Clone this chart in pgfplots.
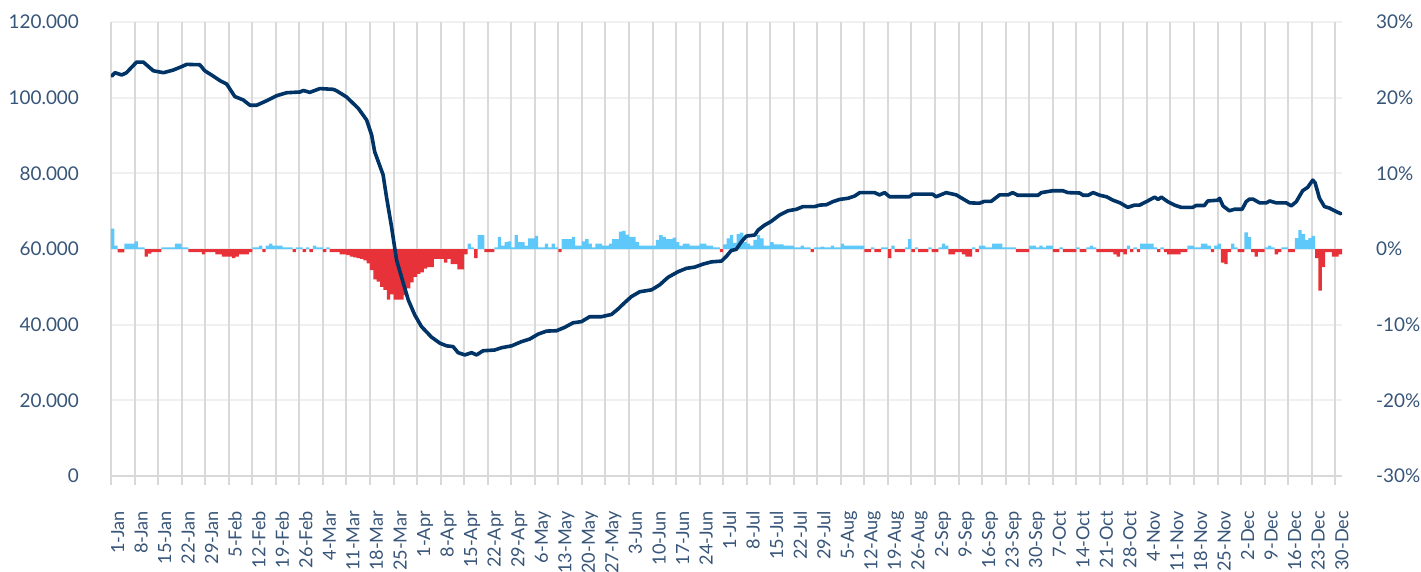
\documentclass[border=0pt]{standalone}
\usepackage{fontspec}
\setmainfont{Lato}
\usepackage{pgfplots}
\usepackage{pgfplotstable}
\pgfplotsset{compat=1.18}
\definecolor{navy}{RGB}{0,51,102}
\definecolor{lblue}{RGB}{94,200,250}
\definecolor{bred}{RGB}{230,50,56}
\definecolor{lab}{RGB}{55,85,120}
\definecolor{vgrid}{RGB}{217,217,217}
\definecolor{hgrid}{RGB}{240,240,240}

\pgfplotstableread[row sep=\\]{
d v\\
0 2.7\\ 1 0.45\\ 2 -0.45\\ 3 -0.45\\ 4 0.7\\ 5 0.7\\ 6 0.7\\ 7 1.0\\ 8 0.2\\ 9 0.2\\
10 -1.0\\ 11 -0.6\\ 12 -0.4\\ 13 -0.4\\ 14 -0.4\\ 15 0.2\\ 16 0.2\\ 17 0.2\\ 18 0.2\\ 19 0.7\\
20 0.7\\ 21 0.2\\ 22 0.2\\ 23 -0.4\\ 24 -0.4\\ 25 -0.4\\ 26 -0.4\\ 27 -0.7\\ 28 -0.4\\ 29 -0.4\\
30 -0.4\\ 31 -0.7\\ 32 -0.7\\ 33 -1.0\\ 34 -1.0\\ 35 -1.0\\ 36 -1.2\\ 37 -1.0\\ 38 -0.7\\ 39 -0.7\\
40 -0.7\\ 41 -0.4\\ 42 0.2\\ 43 0.2\\ 44 0.45\\ 45 -0.4\\ 46 0.45\\ 47 0.7\\ 48 0.45\\ 49 0.45\\
50 0.45\\ 51 0.2\\ 52 0.2\\ 53 0.2\\ 54 -0.4\\ 55 0.2\\ 56 0.2\\ 57 -0.4\\ 58 0.2\\ 59 -0.4\\
60 0.45\\ 61 0.2\\ 62 0.2\\ 63 -0.4\\ 64 0.2\\ 65 -0.4\\ 66 -0.4\\ 67 -0.4\\ 68 -0.7\\ 69 -0.7\\
70 -0.8\\ 71 -1.0\\ 72 -1.1\\ 73 -1.2\\ 74 -1.3\\ 75 -1.5\\ 76 -1.9\\ 77 -2.8\\ 78 -4.0\\ 79 -4.3\\
80 -5.0\\ 81 -5.4\\ 82 -6.7\\ 83 -6.0\\ 84 -6.7\\ 85 -6.7\\ 86 -6.7\\ 87 -6.1\\ 88 -5.2\\ 89 -4.4\\
90 -3.7\\ 91 -3.3\\ 92 -3.1\\ 93 -2.6\\ 94 -2.4\\ 95 -2.4\\ 96 -1.3\\ 97 -1.3\\ 98 -1.3\\ 99 -1.8\\
100 -1.3\\ 101 -2.0\\ 102 -2.0\\ 103 -2.7\\ 104 -2.7\\ 105 -0.7\\ 106 0.7\\ 107 0.2\\ 108 -1.2\\ 109 1.85\\
110 1.85\\ 111 -0.4\\ 112 -0.4\\ 113 -0.4\\ 114 0.2\\ 115 1.6\\ 116 0.45\\ 117 0.9\\ 118 1.0\\ 119 0.2\\
120 1.85\\ 121 0.9\\ 122 0.9\\ 123 0.45\\ 124 1.4\\ 125 1.4\\ 126 1.75\\ 127 0.2\\ 128 0.2\\ 129 0.7\\
130 0.2\\ 131 0.7\\ 132 0.2\\ 133 -0.4\\ 134 1.3\\ 135 1.3\\ 136 1.3\\ 137 1.6\\ 138 0.45\\ 139 0.45\\
140 1.0\\ 141 1.3\\ 142 0.7\\ 143 0.2\\ 144 0.7\\ 145 0.7\\ 146 0.45\\ 147 0.45\\ 148 0.7\\ 149 1.3\\
150 1.3\\ 151 2.3\\ 152 2.4\\ 153 1.9\\ 154 1.6\\ 155 1.6\\ 156 0.9\\ 157 0.45\\ 158 0.45\\ 159 0.45\\
160 0.45\\ 161 0.45\\ 162 1.2\\ 163 1.85\\ 164 1.6\\ 165 1.3\\ 166 1.3\\ 167 1.5\\ 168 0.9\\ 169 0.45\\
170 0.7\\ 171 0.7\\ 172 0.45\\ 173 0.45\\ 174 0.45\\ 175 0.7\\ 176 0.7\\ 177 0.45\\ 178 0.45\\ 179 0.2\\
180 0.2\\ 181 -0.4\\ 182 0.6\\ 183 1.4\\ 184 1.85\\ 185 0.8\\ 186 1.95\\ 187 2.15\\ 188 0.9\\ 189 0.7\\
190 0.45\\ 191 1.2\\ 192 1.85\\ 193 1.4\\ 194 0.45\\ 195 0.45\\ 196 0.9\\ 197 0.6\\ 198 0.6\\ 199 0.6\\
200 0.45\\ 201 0.45\\ 202 0.45\\ 203 0.2\\ 204 0.2\\ 205 0.45\\ 206 0.2\\ 207 0.2\\ 208 -0.4\\ 209 0.2\\
210 0.2\\ 211 0.3\\ 212 0.2\\ 213 0.2\\ 214 0.45\\ 215 0.2\\ 216 0.2\\ 217 0.7\\ 218 0.45\\ 219 0.45\\
220 0.45\\ 221 0.45\\ 222 0.45\\ 223 0.45\\ 224 -0.4\\ 225 -0.4\\ 226 0.2\\ 227 -0.4\\ 228 -0.4\\ 229 0.2\\
230 0.2\\ 231 -1.2\\ 232 0.45\\ 233 -0.4\\ 234 -0.4\\ 235 -0.4\\ 236 0.2\\ 237 1.3\\ 238 -0.4\\ 239 0.2\\
240 -0.4\\ 241 -0.4\\ 242 -0.4\\ 243 0.2\\ 244 -0.4\\ 245 -0.4\\ 246 0.2\\ 247 0.7\\ 248 0.45\\ 249 -0.7\\
250 -0.7\\ 251 -0.4\\ 252 -0.4\\ 253 -0.7\\ 254 -1.0\\ 255 -1.0\\ 256 0.2\\ 257 -0.4\\ 258 0.45\\ 259 0.45\\
260 0.2\\ 261 0.2\\ 262 0.7\\ 263 0.7\\ 264 0.7\\ 265 0.2\\ 266 0.2\\ 267 0.2\\ 268 0.2\\ 269 -0.4\\
270 -0.4\\ 271 -0.4\\ 272 -0.4\\ 273 0.45\\ 274 0.45\\ 275 0.2\\ 276 0.45\\ 277 0.2\\ 278 0.45\\ 279 0.45\\
280 -0.4\\ 281 -0.4\\ 282 0.2\\ 283 -0.4\\ 284 -0.4\\ 285 -0.4\\ 286 -0.4\\ 287 0.2\\ 288 -0.4\\ 289 -0.4\\
290 0.2\\ 291 0.45\\ 292 0.2\\ 293 -0.4\\ 294 -0.4\\ 295 -0.4\\ 296 -0.4\\ 297 -0.4\\ 298 -0.7\\ 299 -1.0\\
300 -0.4\\ 301 -0.7\\ 302 0.45\\ 303 -0.4\\ 304 0.2\\ 305 -0.4\\ 306 0.7\\ 307 0.7\\ 308 0.7\\ 309 0.7\\
310 0.2\\ 311 -0.4\\ 312 0.2\\ 313 -0.4\\ 314 -0.7\\ 315 -0.7\\ 316 -0.7\\ 317 -0.7\\ 318 -0.4\\ 319 -0.4\\
320 0.45\\ 321 0.45\\ 322 0.2\\ 323 0.2\\ 324 0.7\\ 325 0.7\\ 326 0.45\\ 327 -0.4\\ 328 0.45\\ 329 0.7\\
330 -1.8\\ 331 -2.0\\ 332 -0.4\\ 333 0.7\\ 334 0.2\\ 335 -0.4\\ 336 -0.4\\ 337 2.2\\ 338 1.6\\ 339 -0.4\\
340 -1.0\\ 341 -0.4\\ 342 -0.4\\ 343 0.2\\ 344 0.45\\ 345 0.2\\ 346 -0.7\\ 347 -0.4\\ 348 0.2\\ 349 0.2\\
350 -0.4\\ 351 -0.4\\ 352 1.45\\ 353 2.5\\ 354 2.0\\ 355 1.2\\ 356 1.45\\ 357 1.75\\ 358 -1.2\\ 359 -5.5\\
360 -2.4\\ 361 -0.4\\ 362 -0.4\\ 363 -1.0\\ 364 -1.0\\ 365 -0.7\\
}\bars

\pgfplotstableread[row sep=\\]{
x v\\
0.2 105.7\\ 1.2 106.6\\ 3.2 106.0\\ 4.6 106.6\\ 7.6 109.4\\ 9.6 109.4\\ 12.6 107.1\\ 15.6 106.6\\
18.5 107.3\\ 21.0 108.2\\ 22.5 108.8\\ 26.4 108.7\\ 27.9 107.1\\ 30.4 105.7\\ 32.4 104.5\\ 34.4 103.6\\
36.8 100.3\\ 39.3 99.4\\ 41.3 98.0\\ 43.3 98.0\\ 46.3 99.2\\ 49.2 100.5\\ 52.2 101.3\\ 56.2 101.5\\
57.2 101.9\\ 59.1 101.4\\ 62.1 102.4\\ 66.1 102.2\\ 67.1 101.8\\ 70.0 100.2\\ 73.5 97.2\\ 76.0 94.1\\
77.5 90.1\\ 78.4 85.7\\ 80.9 79.6\\ 81.9 73.8\\ 83.4 65.9\\ 84.9 57.1\\ 86.9 51.0\\ 88.4 46.5\\
90.3 42.6\\ 92.3 39.5\\ 95.3 36.7\\ 97.8 35.1\\ 99.8 34.4\\ 101.7 34.2\\ 103.2 32.6\\ 105.2 32.0\\
107.2 32.6\\ 108.7 32.0\\ 110.6 33.1\\ 114.1 33.3\\ 116.1 33.9\\ 119.1 34.4\\ 122.0 35.5\\ 124.5 36.2\\
127.0 37.5\\ 129.5 38.3\\ 132.5 38.4\\ 134.9 39.3\\ 137.4 40.5\\ 139.9 40.8\\ 142.3 42.1\\ 145.8 42.1\\
148.8 42.7\\ 150.7 44.1\\ 152.7 45.8\\ 154.7 47.4\\ 157.2 48.7\\ 160.7 49.2\\ 163.1 50.5\\ 165.6 52.5\\
168.6 54.0\\ 171.1 54.9\\ 173.5 55.2\\ 176.0 56.0\\ 178.5 56.6\\ 181.5 56.8\\ 182.9 58.0\\ 184.4 59.6\\
185.9 59.9\\ 187.4 61.9\\ 188.9 63.4\\ 191.4 63.7\\ 192.4 65.0\\ 194.3 66.3\\ 196.3 67.3\\ 198.8 69.0\\
201.3 70.1\\ 203.8 70.5\\ 205.7 71.2\\ 209.2 71.2\\ 210.7 71.6\\ 212.7 71.7\\ 214.6 72.5\\ 216.6 73.1\\
219.1 73.4\\ 221.1 74.0\\ 222.6 74.9\\ 227.0 74.9\\ 228.5 74.3\\ 230.0 74.9\\ 231.5 73.8\\ 237.4 73.8\\
238.4 74.5\\ 244.3 74.5\\ 245.3 73.8\\ 248.3 74.9\\ 251.3 74.3\\ 255.3 72.2\\ 258.2 72.1\\ 259.7 72.6\\
261.7 72.6\\ 264.2 74.3\\ 266.7 74.3\\ 268.1 74.9\\ 269.6 74.2\\ 275.6 74.2\\ 276.6 74.9\\ 280.0 75.4\\
283.0 75.4\\ 284.5 74.9\\ 288.0 74.8\\ 289.0 74.2\\ 290.5 74.2\\ 292.0 74.9\\ 294.0 74.2\\ 296.0 73.8\\
297.9 72.9\\ 300.0 72.2\\ 302.3 71.0\\ 304.3 71.6\\ 305.8 71.6\\ 307.8 72.5\\ 310.3 73.7\\ 311.3 73.1\\
312.3 73.7\\ 314.2 72.5\\ 316.2 71.6\\ 318.2 71.0\\ 321.6 71.0\\ 322.6 71.5\\ 325.1 71.5\\ 326.1 72.7\\
329.1 72.9\\ 329.6 73.4\\ 330.6 71.4\\ 332.5 70.1\\ 334.0 70.5\\ 336.3 70.5\\ 337.5 72.5\\ 338.5 73.2\\
339.5 73.2\\ 341.5 72.2\\ 343.5 72.2\\ 344.5 72.7\\ 346.4 72.2\\ 349.4 72.2\\ 350.9 71.4\\ 352.4 72.5\\
354.3 75.4\\ 355.8 76.3\\ 357.3 78.2\\ 358.0 77.5\\ 359.3 73.4\\ 360.8 71.2\\ 362.3 70.8\\ 363.8 70.1\\
365.7 69.3\\
}\line

\begin{document}
\begin{tikzpicture}
\useasboundingbox (-55.5bp,-48bp) rectangle (655bp,238bp);
\pgfplotsset{
  common/.style={
    scale only axis, width=615.5bp, height=227bp,
    at={(0,0)}, anchor=south west,
    xmin=0, xmax=366,
    tick label style={color=lab, font=\fontsize{9.5}{11}\selectfont},
  }
}
% horizontal grid
\begin{axis}[common,
  ymin=0, ymax=120, ytick={20,40,...,120}, yticklabels={},
  ymajorgrids, grid style={hgrid, line width=1bp},
  xtick=\empty, axis line style={draw=none}, ytick style={draw=none}]
\end{axis}
% bars, x axis, right axis
\begin{axis}[common,
  axis x line*=bottom, axis y line*=right,
  x axis line style={vgrid, line width=1bp},
  y axis line style={draw=none},
  ymin=-30, ymax=30,
  ytick={-30,-20,...,30},
  yticklabels={-30\%,-20\%,-10\%,0\%,10\%,20\%,30\%},
  ytick style={draw=none}, ytick pos=right,
  yticklabel shift=9bp,
  xtick={0,7,...,364},
  xticklabels={1-Jan,8-Jan,15-Jan,22-Jan,29-Jan,5-Feb,12-Feb,19-Feb,26-Feb,4-Mar,11-Mar,18-Mar,25-Mar,1-Apr,8-Apr,15-Apr,22-Apr,29-Apr,6-May,13-May,20-May,27-May,3-Jun,10-Jun,17-Jun,24-Jun,1-Jul,8-Jul,15-Jul,22-Jul,29-Jul,5-Aug,12-Aug,19-Aug,26-Aug,2-Sep,9-Sep,16-Sep,23-Sep,30-Sep,7-Oct,14-Oct,21-Oct,28-Oct,4-Nov,11-Nov,18-Nov,25-Nov,2-Dec,9-Dec,16-Dec,23-Dec,30-Dec},
  xtick pos=left, tick align=outside, major tick length=4.5bp,
  xtick style={vgrid, line width=1bp},
  xmajorgrids, grid style={vgrid, line width=1bp},
  xticklabel style={font=\fontsize{9.1}{11}\selectfont, rotate=90, anchor=east, text height=7bp, text depth=2bp, yshift=-4bp},
  xticklabel shift=9.5bp,
]
\addplot[ybar, bar width=1, bar shift=0pt, fill=lblue, draw=none,
  restrict y to domain=0:30] table[x expr=\thisrow{d}+0.5, y=v]{\bars};
\addplot[ybar, bar width=1, bar shift=0pt, fill=bred, draw=none,
  restrict y to domain=-30:0] table[x expr=\thisrow{d}+0.5, y=v]{\bars};
\end{axis}
% line, left axis
\begin{axis}[common,
  axis y line*=left, y axis line style={draw=none},
  hide x axis,
  ymin=0, ymax=120, ytick={0,20,...,120},
  yticklabels={0,20.000,40.000,60.000,80.000,100.000,120.000},
  ytick style={draw=none}, ytick pos=left,
  yticklabel shift=12.5bp,
]
\addplot[navy, line width=1.8bp, line join=round, line cap=round] table[x=x, y=v]{\line};
\end{axis}
\end{tikzpicture}
\end{document}
